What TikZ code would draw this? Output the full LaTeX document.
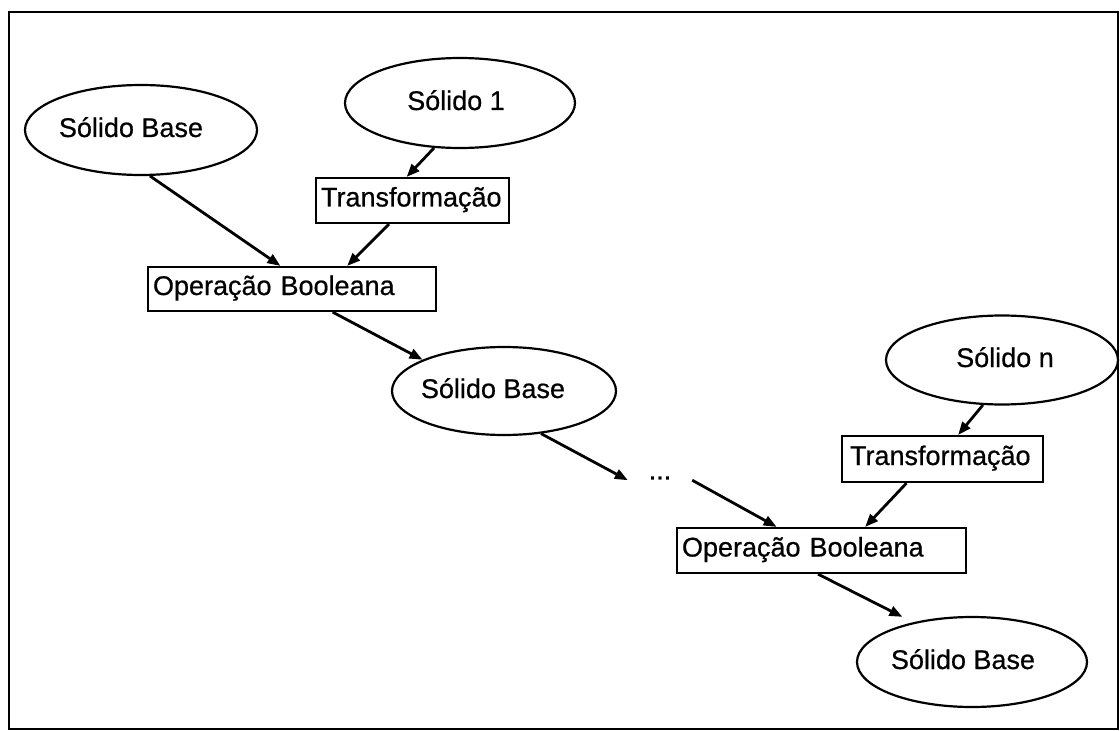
\documentclass[tikz,border=0pt]{standalone}
\usepackage{fontspec}
\setmainfont{Liberation Sans}[FakeBold=0.6]
\usetikzlibrary{shapes.geometric,arrows.meta,calc}

\begin{document}
\begin{tikzpicture}[x=1bp,y=-1bp,
  font=\fontsize{27bp}{31bp}\selectfont,
  solidshape/.style={draw, ellipse, line width=2.2bp, inner sep=0pt},
  soltext/.style={inner sep=0pt, text height=19bp, text depth=5bp},
  opbox/.style={draw, rectangle, line width=2.2bp, align=left, inner ysep=0pt,
                text height=18bp, text depth=6bp},
  conn/.style={line width=2.8bp, -{Triangle[length=13bp,width=10bp]}},
  dotsnode/.style={inner sep=0pt, minimum width=64bp, minimum height=4bp}
]
% page and outer frame
\fill[white] (0,0) rectangle (1120,731);
\useasboundingbox (0,0) rectangle (1120,731);
\draw[line width=2.8bp] (9,12) rectangle (1118,729);

% solids
\node[solidshape, minimum width=232bp, minimum height=90bp,
      label={[soltext,xshift=-10bp]center:Sólido Base}] (sb1) at (141,130) {};
\node[solidshape, minimum width=230bp, minimum height=90bp,
      label={[soltext,xshift=-4bp]center:Sólido 1}] (s1) at (460,103) {};
\node[solidshape, minimum width=224bp, minimum height=88bp,
      label={[soltext,xshift=-11bp]center:Sólido Base}] (sb2) at (504,391) {};
\node[solidshape, minimum width=232bp, minimum height=89bp,
      label={[soltext,xshift=3bp]center:Sólido n}] (sn) at (1002,360) {};
\node[solidshape, minimum width=230bp, minimum height=90bp,
      label={[soltext,xshift=-9bp]center:Sólido Base}] (sb3) at (972,662) {};

% operations
\node[opbox, text width=183bp, inner xsep=5bp, minimum height=45bp] (tr1) at (412.5,200.5) {Transformação};
\node[opbox, text width=278bp, inner xsep=5bp, minimum height=44bp] (op1) at (292,289) {Operação Booleana};
\node[opbox, text width=185bp, inner xsep=8bp, minimum height=46bp] (tr2) at (942.5,459) {Transformação};
\node[opbox, text width=279bp, inner xsep=5bp, minimum height=45bp] (op2) at (821.5,550.5) {Operação Booleana};

% ellipsis between the two stages
\node[dotsnode] (dots) at (660,478) {...};

% connectors
\draw[conn] (sb1.-79) -- ($(op1.north west)!0.46!(op1.north east)$);
\draw[conn] (s1.-120) -- ($(tr1.north west)!0.47!(tr1.north east)$);
\draw[conn] ($(tr1.south west)!0.38!(tr1.south east)$) -- ($(op1.north west)!0.69!(op1.north east)$);
\draw[conn] ($(op1.south west)!0.64!(op1.south east)$) -- (sb2.159);
\draw[conn] (sb2.-49) -- (dots.south west);
\draw[conn] (dots.south east) -- ($(op2.north west)!0.346!(op2.north east)$);
\draw[conn] (sn.-113) -- ($(tr2.north west)!0.577!(tr2.north east)$);
\draw[conn] ($(tr2.south west)!0.323!(tr2.south east)$) -- ($(op2.north west)!0.65!(op2.north east)$);
\draw[conn, shorten >=12bp] ($(op2.south west)!0.488!(op2.south east)$) -- (sb3.146);
\end{tikzpicture}
\end{document}
